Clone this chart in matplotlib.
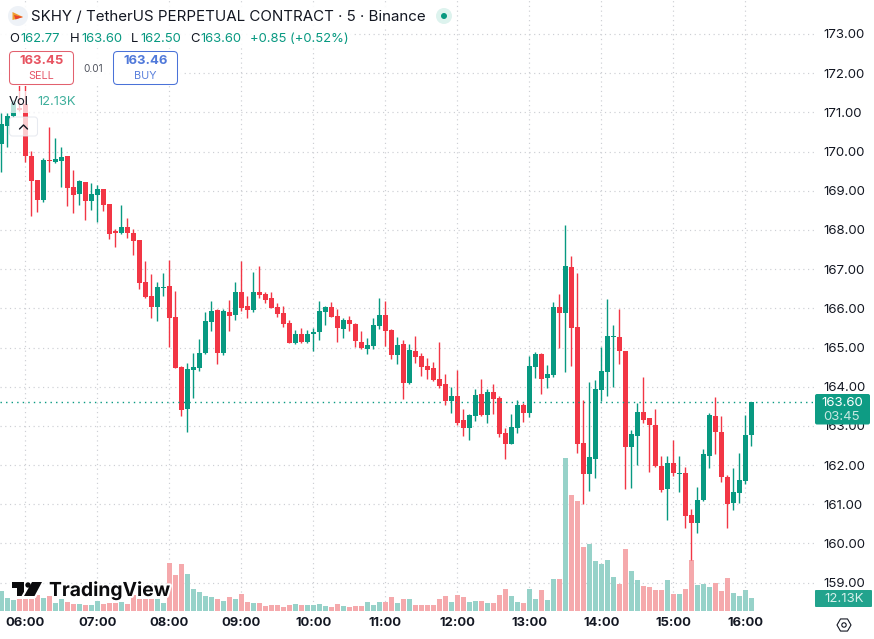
import matplotlib
matplotlib.use("Agg")

import matplotlib.pyplot as plt
import matplotlib.patheffects as pe
import numpy as np

from matplotlib.patches import Circle, FancyBboxPatch, Polygon, Rectangle

plt.rcParams['font.family'] = ['Inter', 'DejaVu Sans']

GREEN = "#089981"
RED = "#F23645"
GREEN_VOL = "#97D2C9"
RED_VOL = "#F5A9AC"
GRID = "#CDCFD4"
INK = "#131722"

# 5 minute candles, 05:40 to 16:00
opens = [170.19, 170.65, 170.91, 171.11, 171.21, 169.89, 169.27, 168.76, 169.78, 169.73,
         169.76, 169.89, 169.10, 168.92, 169.22, 168.74, 168.89, 169.04, 168.66, 167.96,
         167.92, 168.07, 167.92, 167.74, 166.67, 166.31, 166.03, 166.52, 166.57, 165.78,
         164.50, 163.43, 164.43, 164.48, 164.86, 165.65, 165.96, 164.86, 165.91, 165.83,
         166.42, 166.06, 165.96, 166.42, 166.36, 166.26, 166.03, 165.88, 165.63, 165.12,
         165.34, 165.14, 165.34, 165.40, 165.91, 166.03, 165.80, 165.47, 165.70, 165.60,
         165.14, 164.96, 165.04, 165.55, 165.83, 165.45, 164.81, 165.09, 164.09, 164.91,
         164.78, 164.53, 164.48, 164.20, 164.07, 163.64, 163.76, 163.15, 162.95, 163.26,
         163.81, 163.28, 163.87, 163.71, 162.82, 162.54, 162.95, 163.53, 163.33, 164.50,
         164.83, 164.22, 164.30, 166.03, 165.88, 167.05, 165.52, 162.57, 161.77, 162.16,
         163.92, 164.37, 165.27, 165.27, 164.91, 162.47, 162.74, 163.35, 163.20, 163.02,
         161.98, 161.39, 162.05, 161.77, 161.80, 160.73, 160.52, 161.11, 162.23, 163.26,
         162.85, 161.70, 161.03, 161.29, 161.59, 162.77]
highs = [170.98, 170.98, 171.31, 171.70, 171.70, 170.02, 169.27, 169.83, 170.63, 170.34,
         170.12, 169.89, 169.53, 169.27, 169.22, 169.20, 169.15, 169.04, 168.66, 168.02,
         168.64, 168.30, 168.02, 167.74, 167.21, 166.87, 166.67, 166.90, 167.23, 166.44,
         164.53, 164.60, 164.86, 165.22, 165.91, 166.19, 165.98, 165.98, 166.21, 166.67,
         167.21, 166.31, 166.93, 167.08, 166.42, 166.42, 166.13, 166.06, 165.70, 165.45,
         165.50, 165.45, 165.50, 166.19, 166.06, 166.16, 165.98, 165.75, 165.80, 165.63,
         165.42, 165.24, 165.75, 166.26, 166.19, 165.47, 165.27, 165.19, 165.09, 165.29,
         164.86, 164.73, 164.63, 165.14, 164.32, 164.00, 164.43, 163.43, 163.30, 163.94,
         164.20, 163.94, 164.07, 163.76, 162.95, 163.30, 163.66, 163.58, 164.78, 164.88,
         164.86, 164.55, 166.16, 166.36, 168.13, 167.34, 166.90, 163.66, 164.12, 164.17,
         165.02, 166.24, 165.57, 165.98, 164.91, 162.90, 163.58, 164.25, 163.20, 163.43,
         162.23, 162.23, 162.64, 162.23, 161.95, 160.88, 161.44, 162.41, 163.33, 163.74,
         163.26, 161.75, 161.93, 162.31, 163.28, 163.60]
lows = [169.48, 170.12, 170.88, 171.04, 169.73, 168.35, 168.46, 168.71, 169.48, 169.71,
        169.10, 168.61, 168.43, 168.64, 168.25, 168.51, 168.20, 168.48, 167.77, 167.56,
        167.89, 167.79, 167.36, 166.49, 166.26, 165.75, 165.68, 166.31, 165.02, 164.48,
        163.25, 162.85, 163.71, 164.40, 164.83, 165.42, 164.58, 164.81, 165.42, 165.70,
        165.93, 165.75, 165.91, 166.26, 166.13, 166.01, 165.78, 165.52, 165.12, 165.09,
        165.12, 165.12, 164.91, 165.19, 165.57, 165.78, 165.14, 165.24, 165.42, 165.02,
        164.96, 164.83, 164.96, 165.47, 165.04, 164.71, 164.58, 163.69, 164.07, 164.60,
        164.27, 164.20, 164.15, 163.97, 163.53, 163.33, 163.02, 162.74, 162.64, 163.13,
        163.26, 163.07, 163.30, 162.72, 162.16, 162.54, 162.82, 163.10, 163.23, 164.22,
        163.81, 163.97, 164.25, 164.99, 164.37, 164.53, 162.31, 161.01, 161.34, 161.67,
        163.64, 163.76, 163.99, 164.58, 161.39, 161.42, 162.00, 163.07, 161.82, 161.95,
        161.31, 160.60, 161.72, 161.31, 160.40, 159.58, 160.27, 161.08, 161.93, 162.28,
        161.57, 160.40, 160.85, 161.03, 161.52, 162.50]
closes = [170.70, 170.91, 171.24, 171.06, 169.89, 169.25, 168.76, 169.78, 169.76, 169.81,
          169.86, 169.07, 168.89, 169.25, 168.74, 168.92, 169.04, 168.64, 167.89, 167.93,
          168.07, 167.92, 167.72, 166.65, 166.29, 166.03, 166.54, 166.54, 165.75, 164.48,
          163.41, 164.45, 164.50, 164.86, 165.68, 165.93, 164.86, 165.93, 165.80, 166.42,
          166.01, 165.96, 166.42, 166.34, 166.21, 166.01, 165.86, 165.60, 165.12, 165.34,
          165.14, 165.34, 165.40, 165.93, 166.03, 165.78, 165.50, 165.70, 165.60, 165.17,
          164.99, 165.06, 165.57, 165.83, 165.42, 164.81, 165.06, 164.09, 164.94, 164.76,
          164.50, 164.43, 164.17, 164.02, 163.64, 163.76, 163.07, 162.95, 163.28, 163.79,
          163.28, 163.87, 163.69, 162.79, 162.54, 162.97, 163.53, 163.33, 164.53, 164.83,
          164.20, 164.32, 166.03, 165.88, 167.08, 165.50, 162.54, 161.77, 162.21, 163.94,
          164.40, 165.29, 165.29, 164.91, 162.47, 162.79, 163.35, 163.15, 163.02, 161.98,
          161.37, 162.05, 161.80, 161.80, 160.70, 160.52, 161.11, 162.28, 163.28, 162.85,
          161.70, 161.01, 161.31, 161.62, 162.77, 163.60]
volumes = [18.7, 11.8, 10.3, 11.2, 11.2, 11.2, 14.9, 11.8, 14.0, 7.2,
           11.2, 8.4, 6.5, 6.5, 5.3, 5.6, 9.3, 6.5, 7.2, 7.2,
           8.4, 6.5, 14.9, 11.2, 11.2, 11.2, 11.2, 7.5, 44.8, 33.6,
           43.9, 34.5, 20.5, 17.7, 14.0, 13.4, 11.2, 9.3, 13.1, 11.2,
           15.9, 8.4, 7.5, 7.5, 4.7, 5.6, 5.6, 3.7, 5.6, 6.5,
           5.6, 5.6, 5.6, 6.5, 4.7, 3.7, 6.5, 4.7, 3.7, 4.7,
           4.7, 8.4, 5.6, 8.4, 8.4, 13.1, 7.5, 11.2, 11.2, 5.6,
           5.6, 5.6, 5.6, 11.2, 14.0, 8.4, 14.9, 13.1, 8.4, 9.3,
           9.3, 7.5, 7.5, 14.9, 20.5, 14.0, 8.4, 7.5, 20.5, 11.2,
           19.6, 10.3, 29.9, 29.9, 142.7, 108.2, 102.6, 59.7, 62.5, 46.7,
           43.9, 47.6, 31.7, 25.2, 57.8, 37.3, 28.9, 23.3, 22.4, 19.6,
           19.6, 28.9, 15.9, 15.9, 20.5, 47.6, 24.3, 25.2, 22.4, 26.1,
           18.7, 30.8, 16.8, 14.0, 19.6, 12.13]

hour_labels = ["06:00", "07:00", "08:00", "09:00", "10:00", "11:00",
               "12:00", "13:00", "14:00", "15:00", "16:00"]
price_ticks = list(range(159, 174))
last_price = 163.60

W, H = 874, 639
PANE_W, PANE_H = 815, 611
BAR_W = 0.9

o = np.array(opens)
c = np.array(closes)
idx = np.arange(len(o))
up = c >= o
colors = np.where(up, GREEN, RED)
vol_colors = np.where(up, GREEN_VOL, RED_VOL)

fig = plt.figure(figsize=(W / 100, H / 100), dpi=100, facecolor="white")
pos = [0, (H - PANE_H) / H, PANE_W / W, PANE_H / H]
xlim = (-0.233, 135.6)
ylim = (158.278, 173.865)

# back layer holds grid and axis labels
ax = fig.add_axes(pos, zorder=1)
ax.set_xlim(xlim)
ax.set_ylim(ylim)
ax.set_xticks(np.arange(len(hour_labels)) * 12 + 4)
ax.set_xticklabels(hour_labels, fontsize=9.4, fontweight="bold", color=INK)
ax.set_yticks(price_ticks)
ax.set_yticklabels(["%.2f" % p for p in price_ticks], fontsize=9.5, color=INK)
for label, p in zip(ax.get_yticklabels(), price_ticks):
    if p % 5 == 0:
        label.set_fontweight("bold")
ax.yaxis.tick_right()
ax.tick_params(axis="y", length=0, pad=6.3)
ax.tick_params(axis="x", length=0, pad=4.5)
ax.grid(True, color=GRID, lw=0.85, linestyle=(0, (1, 3)))
ax.set_axisbelow(True)
for s in ax.spines.values():
    s.set_visible(False)

# volume histogram
vol_ax = fig.add_axes(pos, zorder=2)
vol_ax.patch.set_visible(False)
vol_ax.set_xlim(xlim)
vol_ax.set_ylim(0, 570.2)
vol_ax.axis("off")
vol_ax.bar(idx, volumes, width=BAR_W, color=vol_colors, linewidth=0)

# candles and last price line
price_ax = fig.add_axes(pos, zorder=3)
price_ax.patch.set_visible(False)
price_ax.set_xlim(xlim)
price_ax.set_ylim(ylim)
price_ax.axis("off")
price_ax.axhline(last_price, color=GREEN, lw=1.0, linestyle=(0, (1, 3)))
price_ax.vlines(idx, lows, highs, colors=colors, lw=1.0)
price_ax.bar(idx, np.abs(c - o), bottom=np.minimum(o, c), width=BAR_W, color=colors, linewidth=0)

# overlay in pixel space for legend, buttons, tags and logo
ui = fig.add_axes([0, 0, 1, 1], zorder=4)
ui.patch.set_visible(False)
ui.set_xlim(0, W)
ui.set_ylim(H, 0)
ui.axis("off")

# translucent backing behind the legend rows
ui.add_patch(Rectangle((0, 4), 456, 24, fc="white", ec="none", alpha=0.9))
ui.add_patch(Rectangle((0, 29), 352, 18, fc="white", ec="none", alpha=0.9))
ui.add_patch(Rectangle((0, 49), 183, 37, fc="white", ec="none", alpha=0.95))
ui.add_patch(Rectangle((0, 91), 87, 22, fc="white", ec="none", alpha=0.72))


def box(x, y, w, h, ec, fc="white", r=4, lw=0.75, alpha=1.0):
    ui.add_patch(FancyBboxPatch((x + r, y + r), w - 2 * r, h - 2 * r,
                                boxstyle="round,pad=%d,rounding_size=%d" % (r, r),
                                fc=fc, ec=ec, lw=lw, alpha=alpha))


# symbol icon and title
ui.add_patch(Circle((18, 16), 10, fc="#EEF2F7", ec="none"))
ui.add_patch(Polygon([[12.5, 12], [23, 17], [12.5, 20]], fc="#F0A030", ec="none"))
ui.add_patch(Polygon([[14, 15], [23, 17], [15.5, 19.5]], fc="#E8452C", ec="none"))
ui.text(31, 17, "SKHY / TetherUS PERPETUAL CONTRACT · 5 · Binance", fontsize=10.88,
        color=INK, va="center", ha="left")
ui.add_patch(Circle((444, 16), 8, fc="#DDF3EE", ec="none"))
ui.add_patch(Circle((444, 16), 3, fc=GREEN, ec="none"))

# OHLC row
ohlc_row = [(9, "O", INK), (20, "162.77", GREEN), (70, "H", INK), (81, "163.60", GREEN),
            (131, "L", INK), (140, "162.50", GREEN), (190, "C", INK), (200, "163.60", GREEN),
            (250, "+0.85 (+0.52%)", GREEN)]
for tx, s, col in ohlc_row:
    ui.text(tx, 39, s, fontsize=9.4, color=col, va="center", ha="left")

# sell / buy buttons
box(9.5, 51.5, 64, 33, "#E2616E")
ui.text(42, 61.5, "163.45", fontsize=9.4, color="#E5404F", fontweight="bold", ha="center", va="center", alpha=0.9)
ui.text(41, 75.7, "SELL", fontsize=7.8, color="#E5586A", ha="center", va="center")
ui.text(93, 69, "0.01", fontsize=7.2, color="#50535E", ha="center", va="center")
box(113.5, 51.5, 64, 33, "#4A72D8")
ui.text(145.5, 61.5, "163.46", fontsize=9.4, color="#3D6AD6", fontweight="bold", ha="center", va="center", alpha=0.9)
ui.text(145, 75.7, "BUY", fontsize=7.8, color="#5A80DC", ha="center", va="center")

# volume legend and collapse button
ui.text(9, 102, "Vol", fontsize=9.4, color=INK, va="center", ha="left")
ui.text(37, 102, "12.13K", fontsize=9.4, color="#3FAF9C", va="center", ha="left")
box(9.5, 117, 28, 19, "#E0E3EB", fc="white", r=3, alpha=0.75)
ui.plot([19.5, 23.5, 27.5], [129, 125, 129], color=INK, lw=1.0, solid_capstyle="round")

# last price tag and volume tag
box(815, 394, 55, 30.5, "#0E9C84", fc="#0E9C84", r=2, lw=0)
ui.text(842, 403, "163.60", fontsize=9.5, color="white", ha="center", va="center")
ui.text(842, 417.5, "03:45", fontsize=9.5, color="#C6E8E1", ha="center", va="center")
box(815, 590, 57, 17, "#22A38D", fc="#22A38D", r=1, lw=0)
ui.text(844, 599, "12.13K", fontsize=9.5, color="#D6F0EB", ha="center", va="center")

# settings gear at the bottom right
hex_r = 7
angles = np.deg2rad(np.arange(0, 360, 60))
ui.add_patch(Polygon(np.c_[844 + hex_r * np.cos(angles), 625 + hex_r * np.sin(angles)],
                     fc="none", ec=INK, lw=0.8))
ui.add_patch(Circle((844, 625), 2.2, fc="none", ec=INK, lw=0.8))

# watermark
halo = [pe.withStroke(linewidth=3, foreground="white")]
logo_t = Polygon([[12, 582], [23.5, 582], [23.5, 596], [17, 596], [17, 588], [12, 588]],
                 fc="#0B0B0D", ec="none", path_effects=halo)
logo_slash = Polygon([[32, 582], [42, 582], [34.5, 596], [24, 596]], fc="#0B0B0D", ec="none",
                     path_effects=halo)
logo_dot = Circle((28, 585), 2.7, fc="#0B0B0D", ec="none")
ui.add_patch(logo_t)
ui.add_patch(logo_slash)
ui.add_patch(logo_dot)
ui.text(49, 590.5, "TradingView", fontsize=13.9, fontweight="bold", color="#0B0B0D",
        ha="left", va="center", path_effects=halo)

fig.savefig("out.png", dpi=100)
